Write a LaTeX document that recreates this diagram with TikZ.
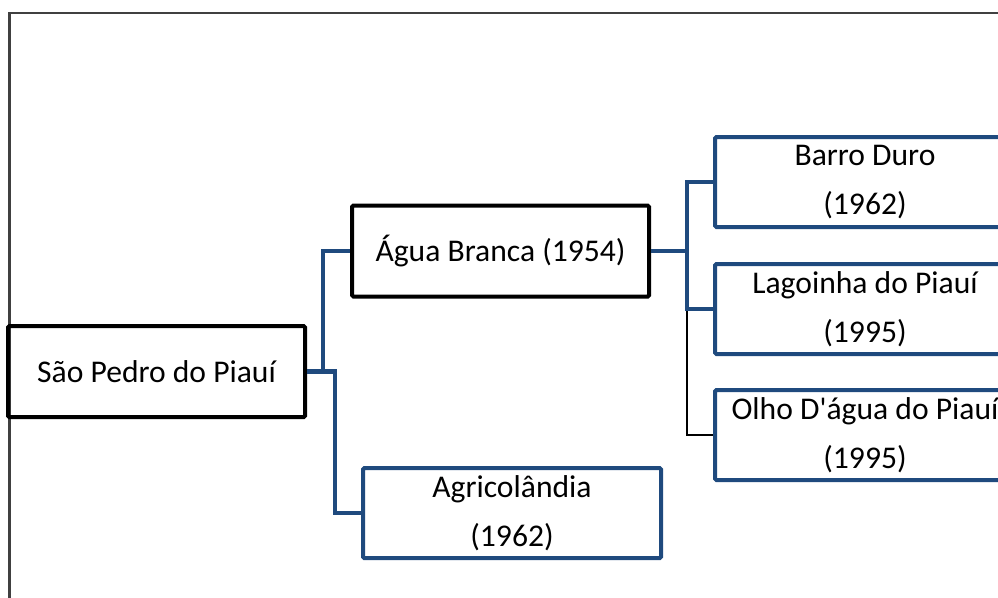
\documentclass[tikz,border=0pt]{standalone}
\usepackage{fontspec}
\setmainfont{Carlito}[Ligatures=TeXOff]
\definecolor{conblue}{HTML}{1F4A7E}
\definecolor{framegray}{HTML}{404040}
\begin{document}
\begin{tikzpicture}[x=0.75pt,y=-0.75pt,
  every node/.style={font=\fontsize{23.7pt}{36.75pt}\selectfont, align=center, inner sep=0pt},
  blackbox/.style={draw=black, line width=3pt, rounded corners=1pt, minimum width=297*0.75pt, minimum height=91*0.75pt},
  bluebox/.style={draw=conblue, line width=3pt, rounded corners=1pt, minimum width=298*0.75pt, minimum height=90*0.75pt},
  conn/.style={draw=conblue, line width=3.2pt},
  thin/.style={draw=black, line width=0.8pt}]
\useasboundingbox (0,0) rectangle (998,597);
\clip (0,0) rectangle (998,597);
\draw[framegray, line width=1.9pt] (9.5,13) rectangle (1020,620);
\node[blackbox] (sp) at (156.5,371.5) {São Pedro do Piauí};
\node[blackbox] (ab) at (500.5,251) {Água Branca (1954)};
\node[bluebox] (ag) at (512,513) {Agricolândia\\(1962)};
\node[bluebox, minimum width=300*0.75pt] (bd) at (865,182) {Barro Duro\\(1962)};
\node[bluebox, minimum width=300*0.75pt] (lp) at (865,309) {Lagoinha do Piauí\\(1995)};
\node[bluebox, minimum width=300*0.75pt] (od) at (865,435) {Olho D'água do Piauí\\(1995)};
\coordinate (j1) at (323,371.5);
\coordinate (j2) at (335,371.5);
\coordinate (j3) at (687,251);
\draw[thin] (lp.west -| j3) |- (od.west);
\draw[conn] (sp.east) -- (j2) |- (ag.west);
\draw[conn] (j1) |- (ab.west);
\draw[conn] (ab.east) -- (j3);
\draw[conn] (j3) |- (bd.west);
\draw[conn] (j3) |- (lp.west);
\end{tikzpicture}
\end{document}
